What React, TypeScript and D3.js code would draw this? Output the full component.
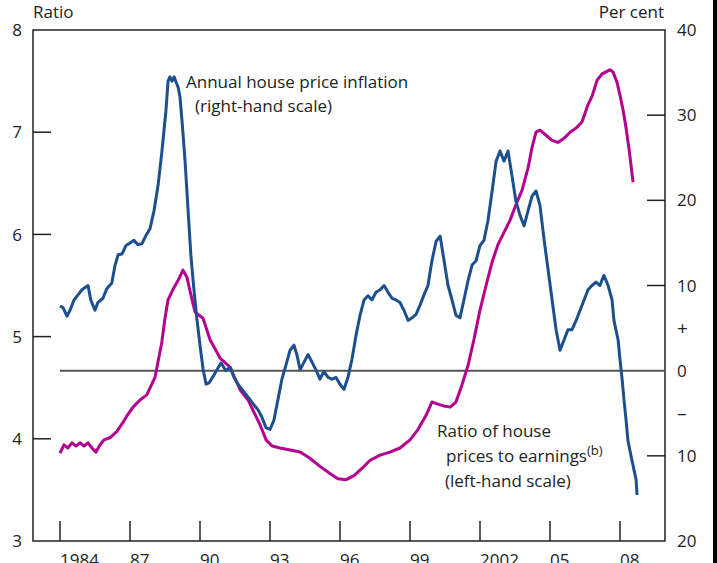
import React from "react";
import * as d3 from "d3";

// Annual house price inflation (per cent, right-hand scale)
const inflation: [number, number][] = [
  [1984.0, 7.6], [1984.13, 7.4], [1984.3, 6.4], [1984.43, 7.1], [1984.6, 8.3], [1984.77, 8.9],
  [1984.94, 9.5], [1985.2, 10.0], [1985.32, 8.3], [1985.5, 7.1], [1985.62, 8.0], [1985.84, 8.5],
  [1986.0, 9.6], [1986.22, 10.3], [1986.36, 12.4], [1986.49, 13.6], [1986.66, 13.7], [1986.83, 14.7],
  [1987.0, 15.0], [1987.17, 15.3], [1987.34, 14.8], [1987.51, 14.9], [1987.69, 15.9], [1987.86, 16.7],
  [1988.03, 18.8], [1988.2, 21.7], [1988.37, 25.8], [1988.54, 30.5], [1988.63, 34.0], [1988.71, 34.5],
  [1988.8, 34.0], [1988.89, 34.5], [1988.97, 33.9], [1989.06, 33.3], [1989.14, 32.2], [1989.23, 29.3],
  [1989.36, 24.6], [1989.49, 18.8], [1989.61, 13.5], [1989.74, 9.5], [1989.87, 6.0], [1990.0, 3.0],
  [1990.13, 0.2], [1990.26, -1.6], [1990.4, -1.4], [1990.6, -0.5], [1990.77, 0.3], [1990.9, 0.9],
  [1991.11, 0.0], [1991.29, 0.4], [1991.46, -0.8], [1991.63, -1.6], [1991.8, -2.2], [1991.97, -2.8],
  [1992.14, -3.4], [1992.31, -4.0], [1992.49, -4.6], [1992.66, -5.5], [1992.83, -6.7], [1993.0, -6.9],
  [1993.17, -5.8], [1993.34, -3.4], [1993.51, -1.0], [1993.69, 0.7], [1993.86, 2.4], [1994.03, 3.0],
  [1994.16, 1.8], [1994.29, 0.1], [1994.46, 1.0], [1994.63, 1.9], [1994.8, 1.0], [1994.97, 0.1],
  [1995.14, -1.0], [1995.31, -0.1], [1995.49, -0.8], [1995.66, -1.0], [1995.83, -0.8], [1996.0, -1.6],
  [1996.17, -2.2], [1996.34, -0.8], [1996.51, 1.3], [1996.69, 4.2], [1996.86, 6.5], [1997.03, 8.3],
  [1997.2, 8.8], [1997.37, 8.3], [1997.54, 9.2], [1997.72, 9.5], [1997.89, 10.0], [1998.06, 9.2],
  [1998.23, 8.5], [1998.4, 8.3], [1998.57, 8.0], [1998.74, 7.1], [1998.92, 5.9], [1999.09, 6.2],
  [1999.26, 6.6], [1999.43, 7.7], [1999.6, 8.9], [1999.77, 10.0], [1999.94, 12.9], [2000.12, 15.2],
  [2000.29, 15.8], [2000.46, 12.9], [2000.63, 10.0], [2000.8, 8.3], [2000.97, 6.5], [2001.14, 6.2],
  [2001.31, 8.3], [2001.49, 10.6], [2001.66, 12.4], [2001.83, 12.9], [2002.0, 14.7], [2002.17, 15.3],
  [2002.34, 17.6], [2002.52, 21.1], [2002.69, 24.6], [2002.86, 25.8], [2003.03, 24.6], [2003.2, 25.8],
  [2003.37, 22.9], [2003.54, 19.9], [2003.72, 18.2], [2003.89, 17.0], [2004.06, 18.8], [2004.23, 20.5],
  [2004.4, 21.1], [2004.57, 19.4], [2004.75, 15.3], [2004.92, 11.8], [2005.09, 8.3], [2005.26, 4.8],
  [2005.43, 2.4], [2005.6, 3.6], [2005.77, 4.8], [2005.94, 4.8], [2006.12, 5.9], [2006.29, 7.1],
  [2006.46, 8.3], [2006.63, 9.5], [2006.8, 10.0], [2006.97, 10.4], [2007.14, 10.0], [2007.31, 11.2],
  [2007.49, 10.0], [2007.66, 8.3], [2007.74, 5.9], [2007.92, 3.6], [2008.0, 1.3], [2008.09, -1.0],
  [2008.17, -3.4], [2008.26, -5.8], [2008.34, -8.2], [2008.51, -10.5], [2008.69, -12.8], [2008.73, -14.6],
];

// Ratio of house prices to earnings (left-hand scale)
const ratio: [number, number][] = [
  [1984.0, 3.86], [1984.17, 3.94], [1984.34, 3.91], [1984.51, 3.96], [1984.69, 3.93], [1984.86, 3.96],
  [1985.03, 3.93], [1985.2, 3.96], [1985.37, 3.91], [1985.54, 3.87], [1985.71, 3.94], [1985.89, 3.99],
  [1986.14, 4.01], [1986.43, 4.07], [1986.7, 4.16], [1986.91, 4.24], [1987.13, 4.31], [1987.43, 4.38],
  [1987.72, 4.43], [1988.07, 4.6], [1988.36, 4.94], [1988.5, 5.18], [1988.63, 5.36], [1988.84, 5.46],
  [1989.06, 5.55], [1989.27, 5.65], [1989.44, 5.58], [1989.66, 5.36], [1989.79, 5.24], [1990.13, 5.18],
  [1990.43, 4.97], [1990.86, 4.79], [1991.29, 4.7], [1991.72, 4.48], [1992.06, 4.38], [1992.31, 4.26],
  [1992.57, 4.14], [1992.83, 3.99], [1993.09, 3.93], [1993.43, 3.91], [1993.86, 3.89], [1994.29, 3.87],
  [1994.71, 3.81], [1995.14, 3.73], [1995.57, 3.66], [1995.91, 3.61], [1996.26, 3.6], [1996.6, 3.64],
  [1996.94, 3.71], [1997.29, 3.79], [1997.72, 3.84], [1998.14, 3.87], [1998.57, 3.91], [1999.0, 3.99],
  [1999.34, 4.09], [1999.69, 4.23], [1999.94, 4.36], [2000.2, 4.34], [2000.46, 4.32], [2000.72, 4.31],
  [2000.97, 4.36], [2001.23, 4.53], [2001.49, 4.72], [2001.74, 4.97], [2002.0, 5.26], [2002.26, 5.5],
  [2002.52, 5.73], [2002.77, 5.9], [2003.03, 6.02], [2003.29, 6.14], [2003.54, 6.29], [2003.8, 6.43],
  [2004.06, 6.65], [2004.23, 6.85], [2004.4, 7.0], [2004.57, 7.02], [2004.83, 6.97], [2005.09, 6.92],
  [2005.34, 6.9], [2005.6, 6.94], [2005.86, 7.0], [2006.12, 7.04], [2006.37, 7.1], [2006.63, 7.27],
  [2006.8, 7.35], [2007.02, 7.51], [2007.23, 7.57], [2007.4, 7.59], [2007.57, 7.61], [2007.7, 7.59],
  [2007.87, 7.49], [2008.0, 7.36], [2008.13, 7.22], [2008.26, 7.04], [2008.39, 6.83], [2008.56, 6.51],
];

const xTicks = [1984, 1987, 1990, 1993, 1996, 1999, 2002, 2005, 2008];
const xTickLabels = ["1984", "87", "90", "93", "96", "99", "2002", "05", "08"];
const leftTicks = [3, 4, 5, 6, 7, 8];
const rightTicks = [-20, -10, 0, 10, 20, 30, 40];

const FONT = "'Open Sans', 'Noto Sans', sans-serif";
const BLUE = "#1d4f8f";
const PINK = "#b5008f";

export default function App() {
  const W = 717, H = 563;
  const L = 33, R = 665, T = 30, B = 541;
  const x = d3.scaleLinear().domain([1984, 2008]).range([60, 620]);
  const yL = d3.scaleLinear().domain([3, 8]).range([B, T]);
  const yR = d3.scaleLinear().domain([-20, 40]).range([B, T]);

  const blueLine = d3.line<[number, number]>().x(d => x(d[0])).y(d => yR(d[1]));
  const pinkLine = d3.line<[number, number]>().x(d => x(d[0])).y(d => yL(d[1]));

  const fs = 17;
  return (
    <svg width={W} height={H} style={{ position: "absolute", left: 0, top: 0, background: "#fff" }}
      fontFamily={FONT}>
      <rect x={0} y={0} width={W} height={H} fill="#fff" />
      {/* frame */}
      <path d={`M${L},${B}V${T}H${R}V${B}H${L}Z`} fill="none" stroke="#222" strokeWidth={1.5} />
      {/* left ticks */}
      {leftTicks.map(t => (
        <g key={"l" + t}>
          {t > 3 && t < 8 && <line x1={L} x2={L + 18} y1={yL(t)} y2={yL(t)} stroke="#222" strokeWidth={1.5} />}
          <text x={22} y={yL(t)} dy="0.36em" textAnchor="end" fontSize={fs} fill="#222">{t}</text>
        </g>
      ))}
      {/* right ticks */}
      {rightTicks.map(t => (
        <g key={"r" + t}>
          {t > -20 && t < 40 && t !== 0 && <line x1={R - 18} x2={R} y1={yR(t)} y2={yR(t)} stroke="#222" strokeWidth={1.5} />}
          <text x={677} y={yR(t)} dy="0.36em" textAnchor="start" fontSize={fs} fill="#222">{Math.abs(t)}</text>
        </g>
      ))}
      <text x={677} y={yR(5)} dy="0.36em" fontSize={fs + 2} fill="#222">+</text>
      <text x={677} y={yR(-5)} dy="0.36em" fontSize={fs + 2} fill="#222">–</text>
      {/* bottom ticks */}
      {xTicks.map((t, i) => (
        <g key={"x" + t}>
          <line x1={x(t)} x2={x(t)} y1={B} y2={B - 20} stroke="#222" strokeWidth={1.5} />
          <text x={x(t)} y={566} textAnchor="start" fontSize={fs} fill="#222">{xTickLabels[i]}</text>
        </g>
      ))}
      {/* zero line */}
      <line x1={60} x2={R} y1={yR(0)} y2={yR(0)} stroke="#555" strokeWidth={2} />
      {/* series */}
      <path d={pinkLine(ratio) || ""} fill="none" stroke={PINK} strokeWidth={3} strokeLinejoin="round" />
      <path d={blueLine(inflation) || ""} fill="none" stroke={BLUE} strokeWidth={3} strokeLinejoin="round" />
      {/* axis titles */}
      <text x={33} y={18} fontSize={fs} fill="#222">Ratio</text>
      <text x={664} y={18} textAnchor="end" fontSize={fs} fill="#222">Per cent</text>
      {/* annotations */}
      <text x={186} y={88} fontSize={fs} fill="#222">Annual house price inflation</text>
      <text x={195} y={112} fontSize={fs} fill="#222">(right-hand scale)</text>
      <text x={437} y={437} fontSize={fs} fill="#222">Ratio of house</text>
      <text x={446} y={462} fontSize={fs} fill="#222">prices to earnings<tspan fontSize={13} dy={-7}>(b)</tspan></text>
      <text x={445} y={487} fontSize={fs} fill="#222">(left-hand scale)</text>
      <rect x={713} y={0} width={4} height={H} fill="#000" />
    </svg>
  );
}
